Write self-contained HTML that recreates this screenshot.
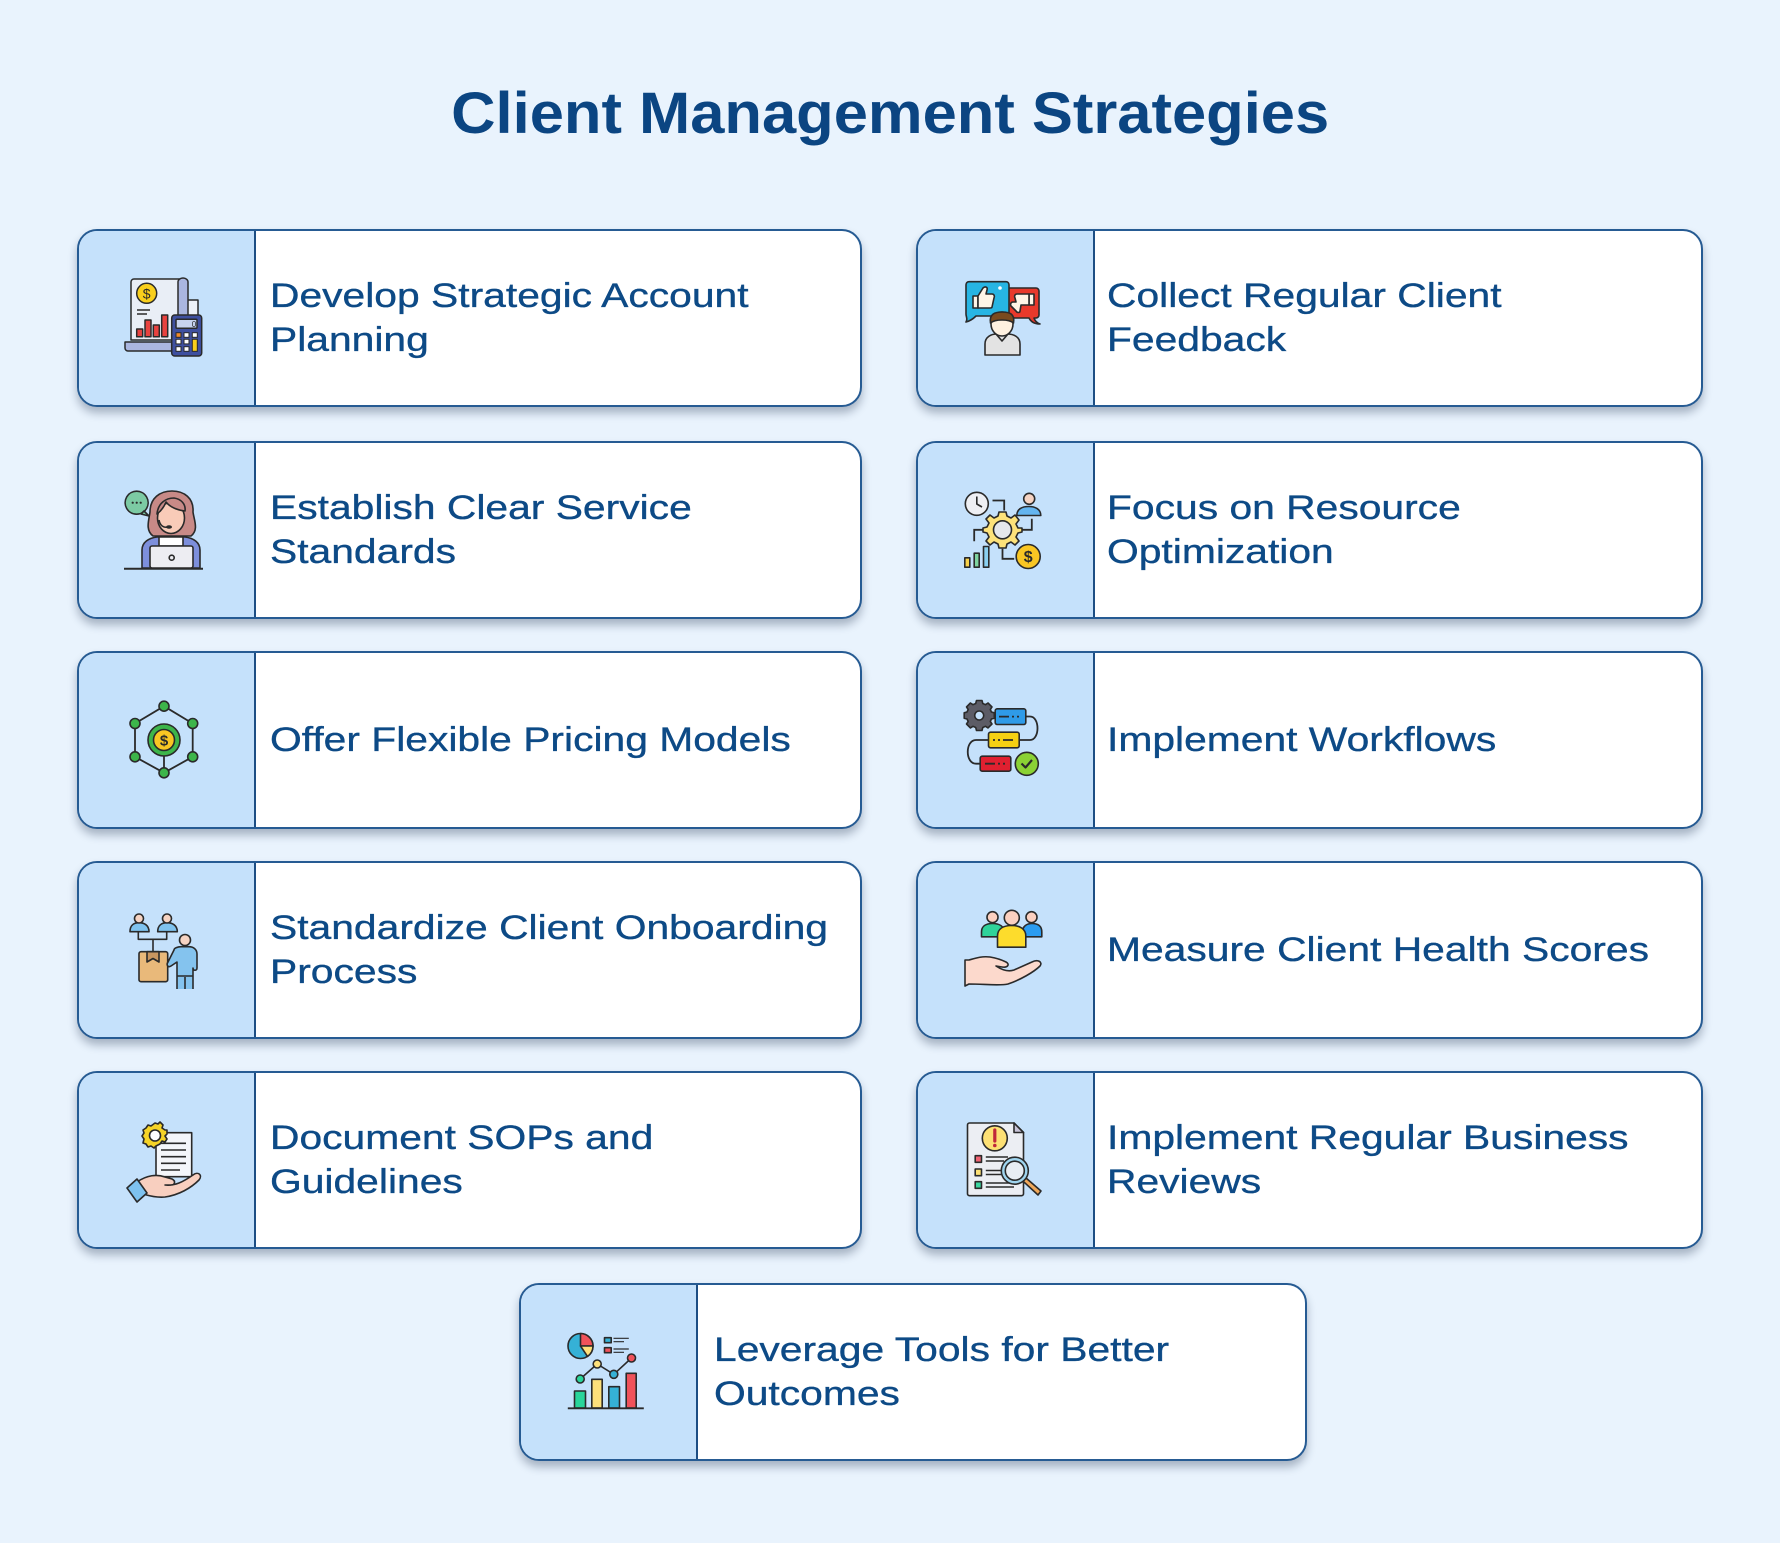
<!DOCTYPE html>
<html>
<head>
<meta charset="utf-8">
<style>
  html,body{margin:0;padding:0;}
  body{width:1780px;height:1543px;background:#e9f3fd;position:relative;overflow:hidden;font-family:"Liberation Sans",Arial,sans-serif;}
  .title{position:absolute;left:0;width:1780px;top:85px;text-align:center;font-size:58px;line-height:58px;font-weight:bold;color:#0b4582;}
  .title span{display:inline-block;transform:scaleX(1.06);}
  .card{position:absolute;height:178px;box-sizing:border-box;border:2px solid #265b93;border-radius:20px;background:#fff;box-shadow:0 6px 9px rgba(30,50,80,0.33);overflow:hidden;}
  .L{left:77px;width:785px;}
  .R{left:916px;width:787px;}
  .panel{position:absolute;left:0;top:0;bottom:0;width:175px;background:#c5e1fb;border-right:2px solid #1d4e84;}
  .ic{position:absolute;left:46px;top:47px;width:80px;height:80px;overflow:visible;}
  .txt{position:absolute;top:0;bottom:0;display:flex;align-items:center;color:#0d4a86;font-size:34px;line-height:44px;white-space:nowrap;-webkit-text-stroke:0.35px #0d4a86;}
  .L .txt{left:191px;}
  .R .txt{left:189px;}
  .txt span{display:inline-block;transform:scaleX(1.2);transform-origin:0 50%;}
</style>
</head>
<body>
<div class="title"><span>Client Management Strategies</span></div>

<!-- Row 1 Left -->
<div class="card L" style="top:229px;">
  <div class="panel"></div>
  <svg class="ic" viewBox="0 0 80 80">
    <g stroke="#2a2a2a" stroke-width="1.5" stroke-linejoin="round">
      <rect x="62" y="22" width="11" height="33" fill="#eef2f8"/>
      <path d="M6 62 V4 a3 3 0 0 1 3 -3 H58 V62 Z" fill="#e9eef6"/>
      <path d="M53 4 a5 4 0 0 1 10 0 V58 H53 Z" fill="#aab6e0"/>
      <path d="M0 64 H50 V73 H3 a3 3 0 0 1 -3 -3 Z" fill="#aab6e0"/>
      <circle cx="21.7" cy="15.3" r="10" fill="#f9cf1c"/>
      <rect x="11.7" y="51" width="6" height="7.7" fill="#e8423f"/>
      <rect x="20" y="42" width="6" height="16.7" fill="#e8423f"/>
      <rect x="28.3" y="47" width="6" height="11.7" fill="#e8423f"/>
      <rect x="36.7" y="37" width="6" height="21.7" fill="#e8423f"/>
      <rect x="46.7" y="37" width="30" height="41" rx="3" fill="#3e4f9f"/>
      <rect x="51" y="41.3" width="21" height="9" rx="1" fill="#c7d3ef"/>
    </g>
    <path d="M12 32 H25 M12 36 H22" stroke="#2a2a2a" stroke-width="1.4"/>
    <text x="21.7" y="20.5" font-size="14" text-anchor="middle" fill="#2a2a2a" font-family="Liberation Sans, sans-serif">$</text>
    <text x="69" y="49" font-size="8" text-anchor="middle" fill="#2a2a2a" font-family="Liberation Sans, sans-serif">0</text>
    <g stroke="#2a2a2a" stroke-width="1">
      <rect x="51" y="54.7" width="5" height="4.6" fill="#f08a2a"/>
      <rect x="59" y="54.7" width="5" height="4.6" fill="#fff"/>
      <rect x="67.3" y="54.7" width="5" height="4.6" fill="#fff"/>
      <rect x="51" y="61.3" width="5" height="4.6" fill="#fff"/>
      <rect x="59" y="61.3" width="5" height="4.6" fill="#fff"/>
      <rect x="67.3" y="61.3" width="5" height="12" fill="#f9cf1c"/>
      <rect x="51" y="68.7" width="5" height="4.6" fill="#fff"/>
      <rect x="59" y="68.7" width="5" height="4.6" fill="#fff"/>
    </g>
  </svg>
  <div class="txt"><span>Develop Strategic Account<br>Planning</span></div>
</div>

<!-- Row 2 Left -->
<div class="card L" style="top:441px;">
  <div class="panel"></div>
  <svg class="ic" viewBox="0 0 80 80">
    <g stroke="#2a2a2a" stroke-width="1.6" stroke-linejoin="round">
      <path d="M11.7 1.2 a11.5 11.5 0 1 1 -0.1 0 Z" fill="#7ccaa3"/>
      <path d="M19 21 L24 26 L16 24 Z" fill="#7ccaa3"/>
      <path d="M28 46 C20 40 24 30 25 22 C25 8 35 1 47 1 C59 1 69 8 68 22 C69 30 74 40 66 46 Z" fill="#c88a87"/>
      <path d="M17 78 V60 C17 52 24 48 32 47 H60 C68 48 75 52 75 60 V78 Z" fill="#7d8fdc"/>
      <path d="M34 47 H58 V56 H34 Z" fill="#ffffff"/>
      <ellipse cx="46" cy="28" rx="13.5" ry="15.5" fill="#f9cbb8"/>
      <path d="M32 24 C33 13 41 8 49 8 C56 9 61 14 60 21 C52 20 45 17 41 12 C39 17 36 21 32 24 Z" fill="#c88a87"/>
      <path d="M34 30 C35 36 39 38 43 37" fill="none"/>
      <rect x="25" y="56" width="43" height="22" rx="2" fill="#ededf2"/>
      <circle cx="46.7" cy="67.7" r="2.5" fill="#ededf2"/>
    </g>
    <ellipse cx="44" cy="37" rx="3" ry="1.8" fill="#2a2a2a"/>
    <circle cx="7.7" cy="12.7" r="1.1" fill="#2a2a2a"/>
    <circle cx="11.7" cy="12.7" r="1.1" fill="#2a2a2a"/>
    <circle cx="15.7" cy="12.7" r="1.1" fill="#2a2a2a"/>
    <line x1="-1" y1="78.7" x2="78" y2="78.7" stroke="#2a2a2a" stroke-width="2"/>
  </svg>
  <div class="txt"><span>Establish Clear Service<br>Standards</span></div>
</div>

<!-- Row 3 Left -->
<div class="card L" style="top:651px;">
  <div class="panel"></div>
  <svg class="ic" viewBox="0 0 80 80">
    <g stroke="#2a2a2a" stroke-width="1.8" fill="none">
      <polygon points="39,6.2 67.7,23.5 67.7,56.8 39,72.8 10,56.8 10,23.5"/>
      <line x1="39" y1="40" x2="39" y2="72.8"/>
    </g>
    <g stroke="#2a2a2a" stroke-width="1.6">
      <circle cx="39" cy="6.2" r="5" fill="#3db54a"/>
      <circle cx="67.7" cy="23.5" r="5" fill="#3db54a"/>
      <circle cx="67.7" cy="56.8" r="5" fill="#3db54a"/>
      <circle cx="39" cy="72.8" r="5" fill="#3db54a"/>
      <circle cx="10" cy="56.8" r="5" fill="#3db54a"/>
      <circle cx="10" cy="23.5" r="5" fill="#3db54a"/>
      <circle cx="39" cy="40" r="16" fill="#3db54a"/>
      <circle cx="39" cy="40" r="10.5" fill="#f9c623"/>
    </g>
    <text x="39" y="45.5" font-size="15" font-weight="bold" text-anchor="middle" fill="#2a2a2a" font-family="Liberation Sans, sans-serif">$</text>
  </svg>
  <div class="txt"><span>Offer Flexible Pricing Models</span></div>
</div>

<!-- Row 4 Left -->
<div class="card L" style="top:861px;">
  <div class="panel"></div>
  <svg class="ic" viewBox="0 0 80 80">
    <g stroke="#2a2a2a" stroke-width="1.6" stroke-linejoin="round">
      <path d="M13.3 21.7 V29.3 H41.7 V21.7 M28 29.3 V41.7" fill="none"/>
      <path d="M5 21.7 C5 15 9 12.7 14 12.7 C19 12.7 24 15 24 21.7 Z" fill="#7fc3ef"/>
      <circle cx="14" cy="8.5" r="4.5" fill="#f6d3c2"/>
      <path d="M32.7 21.7 C32.7 15 37 12.7 42 12.7 C47 12.7 52.3 15 52.3 21.7 Z" fill="#7fc3ef"/>
      <circle cx="42" cy="8.5" r="4.5" fill="#f6d3c2"/>
      <rect x="14" y="41.7" width="28.7" height="30" rx="2" fill="#e9b97a"/>
      <path d="M22 41.7 V52 L28 48.5 L34 52 V41.7 Z" fill="#c99660"/>
      <path d="M52 79 V66 H68 V79 M49 40 C49 38 53 36.7 56 36.7 H64 C68 36.7 72 39 72 44 V58 C72 61 68 61 68 58 V66 H52 V52 L46 56 C43 58 41 55 43 52 Z" fill="#84c3ee"/>
      <line x1="60" y1="67" x2="60" y2="79"/>
      <circle cx="60" cy="30" r="5.5" fill="#f6d3c2"/>
    </g>
  </svg>
  <div class="txt"><span>Standardize Client Onboarding<br>Process</span></div>
</div>

<!-- Row 5 Left -->
<div class="card L" style="top:1071px;">
  <div class="panel"></div>
  <svg class="ic" viewBox="0 0 80 80">
    <g stroke="#2a2a2a" stroke-width="1.6" stroke-linejoin="round">
      <rect x="31" y="12.7" width="35.7" height="44" fill="#f4f6fa"/>
      <path d="M36 23.3 H61 M36 30 H61 M36 36.7 H61 M36 43.3 H61 M36 50 H55" fill="none"/>
      <path d="M30 3 L33 4 L35 2 L38 5 L37 8 L40 10 L42 10 L42 14 L40 16 L42 19 L40 22 L37 21 L35 24 L31 26 L29 28 L26 26 L23 27 L21 24 L18 23 L19 19 L17 16 L19 13 L18 10 L21 8 L23 5 L26 6 Z" fill="#f5d327"/>
      <circle cx="30" cy="15.5" r="5.5" fill="#ffffff"/>
      <path d="M12 62 C22 55 32 54 40 57 L47 59 C51 61 50 65 46 65 L40 65 C50 66 58 62 68 55 C73 51 78 55 74 60 C66 68 54 75 40 77 C30 78 22 75 18 74 Z" fill="#f8cfbf"/>
      <polygon points="2,68 12,59 22,73 12,82" fill="#7ec2ef"/>
    </g>
  </svg>
  <div class="txt"><span>Document SOPs and<br>Guidelines</span></div>
</div>

<!-- Row 1 Right -->
<div class="card R" style="top:229px;">
  <div class="panel"></div>
  <svg class="ic" viewBox="0 0 80 80">
    <g stroke="#2a2a2a" stroke-width="1.6" stroke-linejoin="round">
      <path d="M40 10 H72 a3 3 0 0 1 3 3 V37 a3 3 0 0 1 -3 3 H70 C71 43 73 45 76 46 C71 46 67 44 65 40 H40 Z" fill="#e8392b"/>
      <path d="M5 3.7 H42 a3 3 0 0 1 3 3 V35 a3 3 0 0 1 -3 3 H12 C9 41 6 43 2 44 C4 41 2 39 2 36 V6.7 a3 3 0 0 1 3 -3 Z" fill="#27b5e3"/>
      <rect x="9" y="18" width="5" height="12" fill="#fff5e6"/>
      <path d="M14 18 L19 10 C21 8 24 9 23 12 L22 16 H28 C30 16 31 18 30 20 L28 29 C28 30 27 30 26 30 H14 Z" fill="#fff5e6"/>
      <rect x="65" y="16" width="5" height="11" fill="#fff5e6"/>
      <path d="M65 16 H53 C51 16 50 18 51 20 L52 24 H49 C47 24 46 26 47 28 L52 33 C53 35 56 35 56 33 L57 27 H65 Z" fill="#fff5e6"/>
      <path d="M21 77 V66 C21 59 27 56 33 56 H43 C50 56 56 59 56 66 V77 Z" fill="#e3e3e3"/>
      <ellipse cx="38" cy="46" rx="11" ry="12" fill="#fff1e0"/>
      <path d="M26.5 45 C25 36 31 34 38 34 C46 34 51 36 49.5 45 C45 41 31 41 26.5 45 Z" fill="#7a4a1e"/>
      <path d="M32 56 L38 63 L44 56" fill="none"/>
    </g>
    <circle cx="36" cy="10" r="1.8" fill="#fff"/>
  </svg>
  <div class="txt"><span>Collect Regular Client<br>Feedback</span></div>
</div>

<!-- Row 2 Right -->
<div class="card R" style="top:441px;">
  <div class="panel"></div>
  <svg class="ic" viewBox="0 0 80 80">
    <g stroke="#2a2a2a" stroke-width="1.8" fill="none">
      <path d="M28.5 10.5 H40.2 V20.5"/>
      <path d="M67.8 28.8 V39.8 H58.5"/>
      <path d="M20.8 39.8 H10.2 V51.2"/>
      <path d="M38.5 58.8 V68.8 H50.2"/>
    </g>
    <g stroke="#2a2a2a" stroke-width="1.6" stroke-linejoin="round">
      <circle cx="12.8" cy="13.8" r="11.5" fill="#eeeff3"/>
      <path d="M12.8 6.5 V14 L18 17" fill="none"/>
      <path d="M52.8 25.5 C52.8 19 58 16.5 64.8 16.5 C71 16.5 76.8 19 76.8 25.5 Z" fill="#64b5f0"/>
      <circle cx="65.2" cy="8.8" r="5.5" fill="#f6d3c2"/>
      <path d="M35 22 H42 L43 26 L47 28 L51 25 L55 30 L52 34 L54 38 L58 38 V42 L54 43 L52 47 L55 51 L51 55 L47 52 L43 54 L42 58 H35 L34 54 L30 52 L26 55 L22 51 L25 47 L23 43 L19 42 V38 L23 37 L25 33 L22 29 L26 25 L30 28 L34 26 Z" fill="#fde27a"/>
      <circle cx="38.5" cy="39.8" r="9" fill="#e5e7ec"/>
      <circle cx="64.2" cy="66.5" r="12" fill="#f9c623"/>
      <rect x="0.8" y="67.8" width="5" height="9.4" fill="#f9d24a"/>
      <rect x="10.2" y="63.2" width="5" height="14" fill="#7fd4a0"/>
      <rect x="19.5" y="56.5" width="5.3" height="20.7" fill="#8ad0f0"/>
    </g>
    <text x="64.2" y="72" font-size="16" font-weight="bold" text-anchor="middle" fill="#2a2a2a" font-family="Liberation Sans, sans-serif">$</text>
  </svg>
  <div class="txt"><span>Focus on Resource<br>Optimization</span></div>
</div>

<!-- Row 3 Right -->
<div class="card R" style="top:651px;">
  <div class="panel"></div>
  <svg class="ic" viewBox="0 0 80 80">
    <g stroke="#2a2a2a" stroke-width="1.8" fill="none">
      <path d="M61.8 16.5 H66 C76 16.5 76 40 66 40 H55.2"/>
      <path d="M24.5 40 H12 C1 40 1 63.7 12 63.7 H16.2"/>
    </g>
    <g stroke="#2a2a2a" stroke-width="1.6" stroke-linejoin="round">
      <path d="M12.5 4 H18 L18.8 7 L21.5 8.2 L24 6.5 L28 10.4 L26.3 13 L27.4 15.5 L30.3 16.3 V21.7 L27.4 22.5 L26.3 25 L28 27.5 L24 31.4 L21.5 29.8 L18.8 31 L18 34 H12.5 L11.7 31 L9 29.8 L6.4 31.4 L2.5 27.5 L4.2 25 L3 22.5 L0.2 21.7 V16.3 L3 15.5 L4.2 13 L2.5 10.4 L6.4 6.5 L9 8.2 L11.7 7 Z" fill="#5c5c66" transform="translate(0,-3.5)"/>
      <circle cx="15.2" cy="15.5" r="4.5" fill="#c5e1fb"/>
      <rect x="31.2" y="8.8" width="30.6" height="15.7" rx="2" fill="#2f9be8"/>
      <rect x="24.5" y="32.2" width="30.7" height="15.6" rx="2" fill="#f5d012"/>
      <rect x="16.2" y="56.2" width="30.6" height="15" rx="2" fill="#e02030"/>
      <circle cx="62.8" cy="63.8" r="11.5" fill="#8bd234"/>
      <path d="M57.5 63.5 L61.5 67.5 L68 60" fill="none" stroke-width="2.2"/>
    </g>
    <path d="M35 16.6 H45 M48 16.6 H50 M53 16.6 H55 M29 40 H31 M34 40 H36 M39 40 H49 M21 63.7 H31 M34 63.7 H36 M39 63.7 H41" stroke="#2a2a2a" stroke-width="1.8"/>
  </svg>
  <div class="txt"><span>Implement Workflows</span></div>
</div>

<!-- Row 4 Right -->
<div class="card R" style="top:861px;">
  <div class="panel"></div>
  <svg class="ic" viewBox="0 0 80 80">
    <g stroke="#2a2a2a" stroke-width="1.6" stroke-linejoin="round">
      <path d="M17.5 26.8 V22 C17.5 16 22 13.5 28.5 13.5 C35 13.5 40.2 16 40.2 22 V26.8 Z" fill="#2fd39a"/>
      <circle cx="28.5" cy="7.2" r="5.5" fill="#fbd0c0"/>
      <path d="M58.5 26.8 V22 C58.5 16 63 13.5 68 13.5 C74 13.5 77.8 16 77.8 22 V26.8 Z" fill="#2b9cf0"/>
      <circle cx="67.5" cy="7.2" r="5.5" fill="#fbd0c0"/>
      <path d="M33.5 37.2 V26 C33.5 19 39 15.5 47.8 15.5 C56 15.5 61.8 19 61.8 26 V37.2 Z" fill="#fddc2c"/>
      <circle cx="47.8" cy="7.8" r="7.5" fill="#fbd0c0"/>
      <path d="M1 50 L5 50 C12 48 18 46 26 47 C32 48 38 50 42 52 C46 54 44 58 38 57 L32 56 C38 60 44 62 50 60 L68 52 C74 49 79 52 76 56 C70 62 56 70 44 74 C36 76 20 74 5 74 L1 76 Z" fill="#fcd9cc"/>
    </g>
  </svg>
  <div class="txt"><span>Measure Client Health Scores</span></div>
</div>

<!-- Row 5 Right -->
<div class="card R" style="top:1071px;">
  <div class="panel"></div>
  <svg class="ic" viewBox="0 0 80 80">
    <g stroke="#2a2a2a" stroke-width="1.6" stroke-linejoin="round">
      <path d="M3.5 5 a2 2 0 0 1 2 -2 H50 L59.5 12.5 V73.7 a2 2 0 0 1 -2 2 H5.5 a2 2 0 0 1 -2 -2 Z" fill="#eceef3"/>
      <path d="M50 3 V12.5 H59.5 Z" fill="#c9c4d8"/>
      <circle cx="30.8" cy="18.3" r="12.5" fill="#fde074"/>
      <rect x="11.2" y="35.7" width="6.3" height="6.6" fill="#f06272"/>
      <rect x="11.2" y="49" width="6.3" height="6.7" fill="#fde074"/>
      <rect x="11.2" y="61.7" width="6.3" height="6.6" fill="#3bd6a0"/>
      <path d="M21.8 37 H44 M21.8 41 H40 M21.8 50.5 H38 M21.8 54.5 H38 M21.8 63 H52 M21.8 67 H50" fill="none"/>
      <path d="M58.5 60.7 L62 58 L77 71 L74 75 Z" fill="#f0a85a"/>
      <circle cx="50.8" cy="50.7" r="13.5" fill="#9fd4ee"/>
      <circle cx="50.8" cy="50.7" r="9.5" fill="#e8edf3"/>
    </g>
    <path d="M30.8 10 V21" stroke="#c0283a" stroke-width="3.2" stroke-linecap="round"/>
    <circle cx="30.8" cy="25.5" r="1.8" fill="#c0283a"/>
  </svg>
  <div class="txt"><span>Implement Regular Business<br>Reviews</span></div>
</div>

<!-- Bottom -->
<div class="card" style="top:1283px;left:519px;width:788px;">
  <div class="panel"></div>
  <svg class="ic" viewBox="0 0 80 80">
    <g stroke="#2a2a2a" stroke-width="1.6" stroke-linejoin="round">
      <circle cx="13.5" cy="14" r="12.5" fill="#35b1d6"/>
      <path d="M13.5 14 V1.5 A12.5 12.5 0 0 1 26 14 Z" fill="#f0525a"/>
      <path d="M13.5 14 H26 A12.5 12.5 0 0 1 20.5 24.4 Z" fill="#fde07a"/>
      <rect x="37.5" y="5.7" width="6.7" height="5" fill="#35b1d6"/>
      <rect x="37.5" y="15.7" width="6.7" height="5" fill="#f0525a"/>
      <path d="M46.5 6.3 H61.8 M46.5 9.7 H57 M46.5 17 H61.8 M46.5 20.3 H57" fill="none" stroke-width="1.2"/>
      <path d="M13.2 47 L30.2 32 L46.8 42.3 L64.5 26" fill="none"/>
      <rect x="7.5" y="59" width="11" height="17" fill="#29d59a"/>
      <rect x="24.8" y="47.3" width="10.4" height="28.7" fill="#fde07a"/>
      <rect x="41.8" y="54.7" width="10.7" height="21.3" fill="#35b1d6"/>
      <rect x="59.2" y="41.3" width="10" height="34.7" fill="#f0525a"/>
      <circle cx="13.2" cy="47" r="4" fill="#29d59a"/>
      <circle cx="30.2" cy="32" r="4" fill="#fde07a"/>
      <circle cx="46.8" cy="42.3" r="4" fill="#35b1d6"/>
      <circle cx="64.5" cy="26" r="4" fill="#f0525a"/>
    </g>
    <line x1="0.8" y1="76.3" x2="76.8" y2="76.3" stroke="#2a2a2a" stroke-width="1.8"/>
  </svg>
  <div class="txt" style="left:193px;"><span>Leverage Tools for Better<br>Outcomes</span></div>
</div>

</body>
</html>
